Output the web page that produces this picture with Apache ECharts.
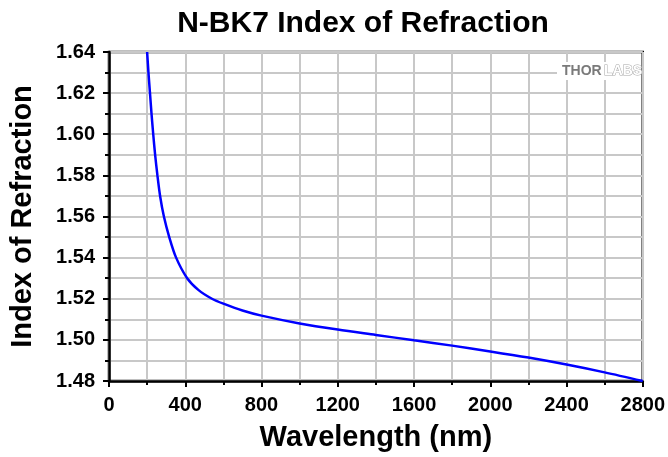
<!DOCTYPE html>
<html>
<head>
<meta charset="utf-8">
<script src="https://cdn.jsdelivr.net/npm/echarts@6/dist/echarts.min.js"></script>
<style>
  html, body { margin: 0; padding: 0; background: #fff; }
  #main { width: 668px; height: 457px; }
</style>
</head>
<body>
<div id="main"></div>
<script>
// wavelength in nm
const wavelengths = [200, 207, 215, 223, 232, 242, 254, 268, 288, 316, 352, 410, 470, 540, 600, 700, 800, 1000, 1200, 1400, 1600, 1800, 2000, 2200, 2400, 2600, 2800];
const indexValues = [1.640, 1.630, 1.620, 1.610, 1.600, 1.590, 1.580, 1.570, 1.560, 1.550, 1.540, 1.530, 1.5242, 1.520, 1.5176, 1.5143, 1.5118, 1.5080, 1.5050, 1.5024, 1.4998, 1.4972, 1.4944, 1.4914, 1.4880, 1.4842, 1.4800];
const xTicks = [0, 400, 800, 1200, 1600, 2000, 2400, 2800];
const yTicks = [1.48, 1.50, 1.52, 1.54, 1.56, 1.58, 1.60, 1.62, 1.64];

const chart = echarts.init(document.getElementById("main"), null, { renderer: "canvas" });

const font = "Liberation Sans, Arial, sans-serif";
const gridColor = "#c8c8c8";

const option = {
  backgroundColor: "#fff",
  animation: false,
  grid: {
    left: 109,
    right: 25,
    top: 52,
    bottom: 73,
    show: true,
    borderColor: "#000",
    borderWidth: 2.5
  },
  xAxis: {
    type: "value",
    min: xTicks[0],
    max: xTicks[xTicks.length - 1],
    interval: 400,
    name: "Wavelength (nm)",
    nameLocation: "middle",
    nameGap: 42,
    nameTextStyle: { fontFamily: font, fontWeight: "bold", fontSize: 29, color: "#000" },
    axisLine: { lineStyle: { color: "#000", width: 2.5 } },
    axisTick: { length: 6, lineStyle: { color: "#000", width: 2 } },
    minorTick: { show: true, splitNumber: 2, length: 4, lineStyle: { color: "#000", width: 2 } },
    splitLine: { lineStyle: { color: gridColor, width: 2 } },
    minorSplitLine: { show: true, lineStyle: { color: gridColor, width: 2 } },
    axisLabel: {
      fontFamily: font, fontWeight: "bold", fontSize: 20, color: "#000", margin: 14,
      formatter: function (v) { return String(v); }
    }
  },
  yAxis: {
    type: "value",
    min: yTicks[0],
    max: yTicks[yTicks.length - 1],
    interval: 0.02,
    name: "Index of Refraction",
    nameLocation: "middle",
    nameGap: 72,
    nameRotate: 90,
    nameTextStyle: { fontFamily: font, fontWeight: "bold", fontSize: 29, color: "#000" },
    axisLine: { show: true, lineStyle: { color: "#000", width: 2.5 } },
    axisTick: { show: true, length: 6, lineStyle: { color: "#000", width: 2 } },
    minorTick: { show: true, splitNumber: 2, length: 4, lineStyle: { color: "#000", width: 2 } },
    splitLine: { lineStyle: { color: gridColor, width: 2 } },
    minorSplitLine: { show: true, lineStyle: { color: gridColor, width: 2 } },
    axisLabel: {
      fontFamily: font, fontWeight: "bold", fontSize: 20, color: "#000", margin: 14,
      formatter: function (v) { return v.toFixed(2); }
    }
  },
  graphic: [
    {
      type: "text",
      x: 363,
      y: 24,
      style: {
        text: "N-BK7 Index of Refraction",
        fontFamily: font, fontWeight: "bold", fontSize: 30, fill: "#000",
        textAlign: "center", textVerticalAlign: "middle"
      }
    },
    {
      type: "rect",
      shape: { x: 557, y: 62, width: 84, height: 18 },
      style: { fill: "#fff" },
      z: 10
    },
    {
      type: "text",
      x: 562, y: 64,
      style: { text: "THOR", fontFamily: font, fontWeight: "bold", fontSize: 14, fill: "#7a7a7a" },
      z: 11
    },
    {
      type: "text",
      x: 604, y: 64,
      style: { text: "LABS", fontFamily: font, fontWeight: "bold", fontSize: 14, fill: "#fff", stroke: "#a8a8a8", lineWidth: 1 },
      z: 11
    }
  ],
  series: [
    {
      type: "line",
      data: wavelengths.map(function (w, i) { return [w, indexValues[i]]; }),
      smooth: 0.3,
      symbol: "none",
      clip: true,
      lineStyle: { color: "#0000ff", width: 2.5 }
    }
  ]
};

chart.setOption(option);
</script>
</body>
</html>
